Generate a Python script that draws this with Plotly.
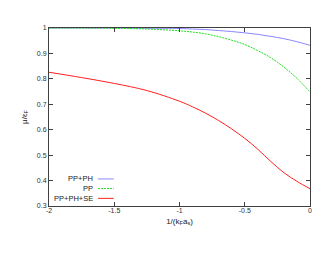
import plotly.graph_objects as go

# Data
x_pts = [-2.0, -1.75, -1.5, -1.25, -1.0, -0.9, -0.8, -0.7, -0.6, -0.5, -0.4, -0.3, -0.2, -0.1, 0.0]
pp_ph = [1.0, 1.0, 1.0, 0.999, 0.998, 0.996, 0.994, 0.990, 0.986, 0.981, 0.975, 0.967, 0.958, 0.946, 0.932]
pp = [1.0, 1.0, 0.999, 0.996, 0.989, 0.984, 0.977, 0.966, 0.952, 0.935, 0.911, 0.883, 0.846, 0.802, 0.748]
pp_ph_se = [0.826, 0.805, 0.782, 0.754, 0.712, 0.690, 0.665, 0.636, 0.603, 0.566, 0.523, 0.475, 0.431, 0.397, 0.368]

x_ticks = [-2, -1.5, -1, -0.5, 0]
x_tick_labels = ["-2", "-1.5", "-1", "-0.5", "0"]
y_ticks = [0.3, 0.4, 0.5, 0.6, 0.7, 0.8, 0.9, 1.0]
y_tick_labels = ["0.3", "0.4", "0.5", "0.6", "0.7", "0.8", "0.9", "1"]

series = [
    ("PP+PH", pp_ph, "#8888ff", "solid"),
    ("PP", pp, "#22dd22", "2px,1px"),
    ("PP+PH+SE", pp_ph_se, "#ff2020", "solid"),
]

fig = go.Figure()
for name, ys, col, dash in series:
    fig.add_trace(go.Scatter(x=x_pts, y=ys, mode="lines", name=name,
                             line=dict(color=col, width=1, dash=dash, shape="spline"),
                             showlegend=False))

# manual gnuplot-style legend (text left of sample)
leg_y = [0.152, 0.098, 0.043]
for (name, ys, col, dash), ly in zip(series, leg_y):
    fig.add_annotation(xref="paper", yref="paper", x=0.175, y=ly, text=name,
                       showarrow=False, xanchor="right", yanchor="middle",
                       font=dict(size=7.5, color="#202020"))
    fig.add_shape(type="line", xref="paper", yref="paper", x0=0.188, x1=0.248,
                  y0=ly, y1=ly, line=dict(color=col, width=1, dash=dash))

axis_common = dict(showline=True, linecolor="#404040", linewidth=1, mirror="allticks",
                   ticks="inside", ticklen=4, tickcolor="#404040", showgrid=False,
                   zeroline=False, automargin=False, tickfont=dict(size=7, color="#303030"))

fig.update_xaxes(range=[-2, 0], tickvals=x_ticks, ticktext=x_tick_labels,
                 ticklabelstandoff=-2,
                 title=dict(text="1/(k<sub>F</sub>a<sub>s</sub>)", font=dict(size=8, color="#202020"),
                            standoff=4),
                 **axis_common)
fig.update_yaxes(range=[0.3, 1.0], tickvals=y_ticks, ticktext=y_tick_labels,
                 title=dict(text="μ/ε<sub>F</sub>", font=dict(size=8, color="#202020"),
                            standoff=8),
                 **axis_common)

fig.update_layout(width=330, height=255, margin=dict(l=41, r=28, t=20, b=57),
                  paper_bgcolor="white", plot_bgcolor="white",
                  font=dict(family="Liberation Sans, Arial, sans-serif"))

fig.write_html("out.html")
